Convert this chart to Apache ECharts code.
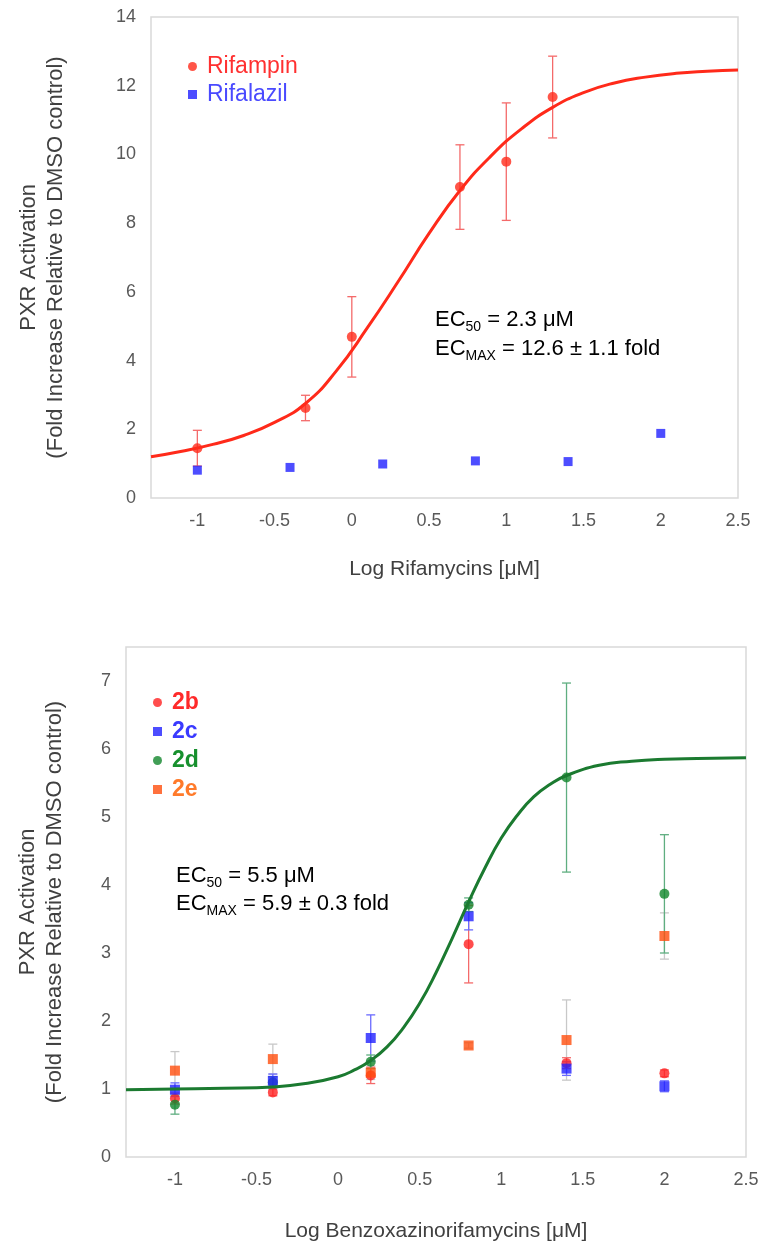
<!DOCTYPE html>
<html>
<head>
<meta charset="utf-8">
<script src="https://cdn.jsdelivr.net/npm/echarts@6/dist/echarts.min.js"></script>
<style>
  html, body { margin: 0; padding: 0; background: #fff; }
  #chart { width: 762px; height: 1250px; }
</style>
</head>
<body>
<div id="chart"></div>
<script>
const FONT = '"Liberation Sans", Arial, sans-serif';

// ---- top panel: rifamycins ----
const rifampinX = [-1, -0.3, 0, 0.7, 1, 1.3];
const rifampinY = [1.45, 2.62, 4.69, 9.05, 9.79, 11.67];
const rifampinErr = [0.52, 0.37, 1.17, 1.23, 1.71, 1.19];
const rifalazilX = [-1, -0.4, 0.2, 0.8, 1.4, 2];
const rifalazilY = [0.81, 0.89, 0.99, 1.08, 1.06, 1.88];
// fitted curve
const rifFitX = [-1.3, -1.1, -0.9, -0.7, -0.5, -0.3, -0.1, 0.1, 0.3, 0.5, 0.7, 0.9, 1.1, 1.3, 1.5, 1.7, 1.9, 2.1, 2.3, 2.5];
const rifFitY = [1.20, 1.36, 1.56, 1.82, 2.20, 2.75, 3.70, 4.95, 6.30, 7.70, 8.95, 9.95, 10.75, 11.37, 11.80, 12.08, 12.25, 12.36, 12.42, 12.46];

// ---- bottom panel: benzoxazinorifamycins ----
const doseX = [-1, -0.4, 0.2, 0.8, 1.4, 2];
const y2b = [0.86, 0.95, 1.20, 3.13, 1.38, 1.23];
const err2b = [0.08, 0.05, 0.12, 0.57, 0.08, 0.05];
const y2c = [0.99, 1.12, 1.75, 3.54, 1.30, 1.04];
const err2c = [0.10, 0.10, 0.34, 0.20, 0.10, 0.08];
const y2d = [0.77, 1.10, 1.40, 3.71, 5.58, 3.87];
const err2d = [0.14, 0.08, 0.10, 0.10, 1.39, 0.87];
const y2e = [1.27, 1.44, 1.24, 1.64, 1.72, 3.25];
const err2e = [0.28, 0.22, 0.10, 0.04, 0.59, 0.34];
const fit2dX = [-1.3, -1.0, -0.7, -0.4, -0.2, 0, 0.1, 0.2, 0.3, 0.4, 0.5, 0.6, 0.7, 0.8, 0.9, 1.0, 1.1, 1.2, 1.3, 1.4, 1.6, 1.8, 2.0, 2.2, 2.5];
const fit2dY = [0.99, 1.00, 1.01, 1.03, 1.08, 1.18, 1.28, 1.42, 1.62, 1.90, 2.26, 2.71, 3.22, 3.75, 4.25, 4.69, 5.03, 5.30, 5.48, 5.61, 5.76, 5.82, 5.85, 5.86, 5.87];

const xTicks = [-1, -0.5, 0, 0.5, 1, 1.5, 2, 2.5];
const yName = 'PXR Activation\n(Fold Increase Relative to DMSO control)';

const pairs = (xs, ys) => xs.map((x, i) => [x, ys[i]]);

const errorBars = (xs, ys, errs, color, gi) => ({
  type: 'custom',
  xAxisIndex: gi,
  yAxisIndex: gi,
  silent: true,
  z: 2,
  data: xs.map((x, i) => [x, ys[i], errs[i]]),
  encode: { x: 0, y: 1 },
  renderItem(params, api) {
    const x = api.value(0), y = api.value(1), e = api.value(2);
    const hi = api.coord([x, y + e]);
    const lo = api.coord([x, y - e]);
    const w = 4.5;
    const style = { stroke: color, lineWidth: 1.3 };
    return {
      type: 'group',
      children: [
        { type: 'line', shape: { x1: hi[0], y1: hi[1], x2: lo[0], y2: lo[1] }, style },
        { type: 'line', shape: { x1: hi[0] - w, y1: hi[1], x2: hi[0] + w, y2: hi[1] }, style },
        { type: 'line', shape: { x1: lo[0] - w, y1: lo[1], x2: lo[0] + w, y2: lo[1] }, style }
      ]
    };
  }
});

const xAxisBase = (gi, name, gap) => ({
  type: 'value',
  gridIndex: gi,
  min: -1.3,
  max: 2.5,
  name,
  nameLocation: 'middle',
  nameGap: gap,
  nameTextStyle: { fontFamily: FONT, fontSize: 21, color: '#404040' },
  axisLine: { show: false },
  axisTick: { show: false },
  splitLine: { show: false },
  axisLabel: {
    customValues: xTicks,
    margin: 14,
    fontFamily: FONT,
    fontSize: 18,
    color: '#595959'
  }
});

const yAxisBase = (gi, max, gap) => ({
  type: 'value',
  gridIndex: gi,
  min: 0,
  max,
  interval: gi === 0 ? 2 : 1,
  name: yName,
  nameLocation: 'middle',
  nameRotate: 90,
  nameGap: gap,
  nameTextStyle: { fontFamily: FONT, fontSize: 22, lineHeight: 27, color: '#404040' },
  axisLine: { show: false },
  axisTick: { show: false },
  splitLine: { show: false },
  axisLabel: {
    margin: 15,
    fontFamily: FONT,
    fontSize: 18,
    color: '#595959',
    formatter: v => (Number.isInteger(v) ? String(v) : '')
  }
});

const richAnno = {
  n: { fontFamily: FONT, fontSize: 22, lineHeight: 24, verticalAlign: 'top', color: '#262626' },
  s: { fontFamily: FONT, fontSize: 14, lineHeight: 16, padding: [11, 0, 0, 0], verticalAlign: 'top', color: '#262626' }
};
const annoLine = (x, y, text) => ({
  type: 'text',
  x, y,
  style: { text, rich: richAnno, verticalAlign: 'top', align: 'left' }
});

const chart = echarts.init(document.getElementById('chart'));
chart.setOption({
  animation: false,
  backgroundColor: '#fff',
  grid: [
    { left: 151, right: 24, top: 17, bottom: 752, show: true, borderColor: '#d9d9d9', borderWidth: 1.5 },
    { left: 126, right: 16, top: 647, bottom: 93, show: true, borderColor: '#d9d9d9', borderWidth: 1.5 }
  ],
  xAxis: [
    xAxisBase(0, 'Log Rifamycins [μM]', 61),
    xAxisBase(1, 'Log Benzoxazinorifamycins [μM]', 64)
  ],
  yAxis: [
    yAxisBase(0, 14, 82),
    yAxisBase(1, 7.5, 58)
  ],
  legend: [
    {
      orient: 'vertical',
      left: 183,
      top: 50,
      itemWidth: 9,
      itemHeight: 9,
      itemGap: 5,
      selectedMode: false,
      textStyle: { fontFamily: FONT, fontSize: 23, lineHeight: 23, padding: [0, 0, 0, 5] },
      data: [
        { name: 'Rifampin', icon: 'circle', textStyle: { color: '#ff3030' } },
        { name: 'Rifalazil', icon: 'rect', textStyle: { color: '#4a4aff' } }
      ]
    },
    {
      orient: 'vertical',
      left: 148,
      top: 686,
      itemWidth: 9,
      itemHeight: 9,
      itemGap: 6,
      selectedMode: false,
      textStyle: { fontFamily: FONT, fontSize: 23, fontWeight: 'bold', lineHeight: 23, padding: [0, 0, 0, 5] },
      data: [
        { name: '2b', icon: 'circle', textStyle: { color: '#ff2a2a' } },
        { name: '2c', icon: 'rect', textStyle: { color: '#3a3aff' } },
        { name: '2d', icon: 'circle', textStyle: { color: '#17902e' } },
        { name: '2e', icon: 'rect', textStyle: { color: '#ff7a2a' } }
      ]
    }
  ],
  graphic: [
    annoLine(435, 309, '{n|EC}{s|50}{n| = 2.3 μM}'),
    annoLine(435, 338, '{n|EC}{s|MAX}{n| = 12.6 ± 1.1 fold}'),
    annoLine(176, 865, '{n|EC}{s|50}{n| = 5.5 μM}'),
    annoLine(176, 893, '{n|EC}{s|MAX}{n| = 5.9 ± 0.3 fold}')
  ],
  series: [
    errorBars(rifampinX, rifampinY, rifampinErr, '#f46a6a', 0),
    {
      name: 'Rifampin fit', type: 'line', xAxisIndex: 0, yAxisIndex: 0,
      data: pairs(rifFitX, rifFitY),
      smooth: true, showSymbol: false, silent: true, z: 3,
      lineStyle: { color: '#ff2a1a', width: 3 }
    },
    {
      name: 'Rifampin', type: 'scatter', xAxisIndex: 0, yAxisIndex: 0,
      data: pairs(rifampinX, rifampinY),
      symbol: 'circle', symbolSize: 10, z: 4,
      itemStyle: { color: '#ff2a1a' }
    },
    {
      name: 'Rifalazil', type: 'scatter', xAxisIndex: 0, yAxisIndex: 0,
      data: pairs(rifalazilX, rifalazilY),
      symbol: 'rect', symbolSize: 9, z: 4,
      itemStyle: { color: '#2020ff' }
    },

    errorBars(doseX, y2e, err2e, '#c8c8c8', 1),
    errorBars(doseX, y2b, err2b, '#f46a6a', 1),
    errorBars(doseX, y2c, err2c, '#6a6aff', 1),
    errorBars(doseX, y2d, err2d, '#5fae80', 1),
    {
      name: '2b', type: 'scatter', xAxisIndex: 1, yAxisIndex: 1,
      data: pairs(doseX, y2b), symbol: 'circle', symbolSize: 10, z: 4,
      itemStyle: { color: '#ff2020' }
    },
    {
      name: '2e', type: 'scatter', xAxisIndex: 1, yAxisIndex: 1,
      data: pairs(doseX, y2e), symbol: 'rect', symbolSize: 10, z: 4,
      itemStyle: { color: '#ff4d0d' }
    },
    {
      name: '2d', type: 'scatter', xAxisIndex: 1, yAxisIndex: 1,
      data: pairs(doseX, y2d), symbol: 'circle', symbolSize: 10, z: 4,
      itemStyle: { color: '#12862c' }
    },
    {
      name: '2c', type: 'scatter', xAxisIndex: 1, yAxisIndex: 1,
      data: pairs(doseX, y2c), symbol: 'rect', symbolSize: 10, z: 4,
      itemStyle: { color: '#2020ff' }
    },
    {
      name: '2d fit', type: 'line', xAxisIndex: 1, yAxisIndex: 1,
      data: pairs(fit2dX, fit2dY),
      smooth: true, showSymbol: false, silent: true, z: 5,
      lineStyle: { color: '#1b7a30', width: 3 }
    }
  ]
});
</script>
</body>
</html>
